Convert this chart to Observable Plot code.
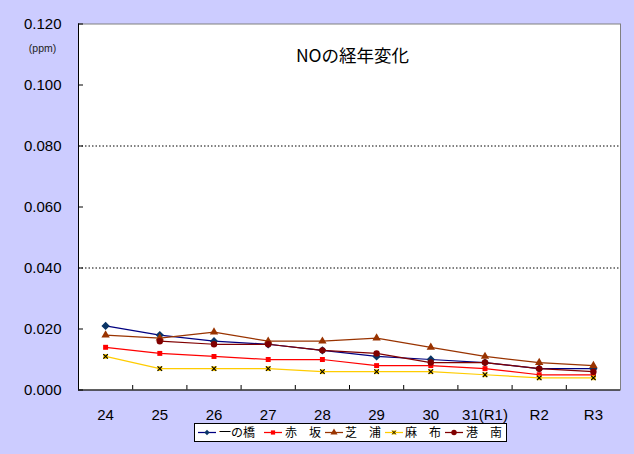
<!DOCTYPE html>
<html>
<head>
<meta charset="utf-8">
<script src="https://cdn.jsdelivr.net/npm/d3@7"></script>
<script src="https://cdn.jsdelivr.net/npm/@observablehq/plot@0.6"></script>
<style>
  html, body { margin: 0; padding: 0; background: #CCCCFF; width: 634px; height: 454px; overflow: hidden; }
  #wrap { position: relative; width: 634px; height: 454px; }
  #chart svg { display: block; }
  #legend { position: absolute; left: 194px; top: 423px; }
</style>
</head>
<body>
<div id="wrap">
  <div id="chart"></div>
  <div id="legend"></div>
</div>
<script>
// ---- data ----
const years = ["24", "25", "26", "27", "28", "29", "30", "31(R1)", "R2", "R3"];
const ichinohashi = [0.021, 0.018, 0.016, 0.015, 0.013, 0.011, 0.010, 0.009, 0.007, 0.007];
const akasaka     = [0.014, 0.012, 0.011, 0.010, 0.010, 0.008, 0.008, 0.007, 0.005, 0.005];
const shibaura    = [0.018, 0.017, 0.019, 0.016, 0.016, 0.017, 0.014, 0.011, 0.009, 0.008];
const azabu       = [0.011, 0.007, 0.007, 0.007, 0.006, 0.006, 0.006, 0.005, 0.004, 0.004];
const konan       = [null,  0.016, 0.015, 0.015, 0.013, 0.012, 0.009, 0.009, 0.007, 0.006];
const seriesNames = ["一の橋", "赤　坂", "芝　浦", "麻　布", "港　南"];
const yTicks = [0, 0.02, 0.04, 0.06, 0.08, 0.10, 0.12];
const gridTicks = [0.04, 0.08];
const title = "NOの経年変化";
const unit = "(ppm)";

const seriesValues = [ichinohashi, akasaka, shibaura, azabu, konan];
const colors = ["#000080", "#FF0000", "#993300", "#FFCC00", "#800000"];
const markerFill = ["#0a3566", "#FF0000", "#993300", "#FFCC00", "#800000"];
const symbols = ["diamond2", "square", "triangle", "square", "circle"];
const radii = [2.8, 2.8, 3.1, 2.7, 3.2];

const rows = seriesValues.map((vals, s) =>
  vals.map((v, i) => ({x: i, y: v, s})).filter(d => d.y != null));

const fmt = d3.format(".3f");
const jp = "'Noto Sans CJK JP', 'Noto Sans', sans-serif";

const marks = [
  Plot.frame({fill: "white", stroke: "#808080"}),
  Plot.ruleY(gridTicks, {x1: -0.5, x2: 9.5, stroke: "black", strokeDasharray: "1.5,2", strokeWidth: 1}),
  // inward y ticks
  Plot.ruleY(yTicks, {x1: -0.5, x2: -0.5 + 5 / 54.2, stroke: "black"}),
  // inward x ticks at category boundaries
  Plot.ruleX(years.slice(1).map((_, i) => i + 0.5), {y1: 0, y2: 4.5 / 3050, stroke: "black"}),
  Plot.ruleX([-0.5], {stroke: "black"}),
  Plot.ruleY([0], {stroke: "black"}),
  // y labels
  Plot.text(yTicks, {x: -0.5, y: d => d, text: d => fmt(d), textAnchor: "end", dx: -17, fontSize: 15, fill: "black", lineAnchor: "middle"}),
  // x labels
  Plot.text(years, {x: (d, i) => i, y: 0, text: d => d, dy: 25, fontSize: 15, fill: "black", lineAnchor: "middle"}),
  Plot.text([title], {text: d => d, frameAnchor: "top", dx: 3, dy: 32, fontSize: 17.5, fontFamily: jp, fill: "black", lineAnchor: "middle"}),
  Plot.text([unit], {text: d => d, frameAnchor: "top-left", dx: -36, dy: 25, fontSize: 10.5, fill: "#222", lineAnchor: "middle", textAnchor: "middle"})
];

rows.forEach((data, s) => {
  marks.push(Plot.line(data, {x: "x", y: "y", stroke: colors[s], strokeWidth: 1.25}));
  marks.push(Plot.dot(data, {x: "x", y: "y", symbol: symbols[s], r: radii[s], fill: markerFill[s], stroke: s === 0 ? markerFill[s] : "none"}));
  if (s === 3) {
    marks.push(Plot.dot(data, {x: "x", y: "y", symbol: "times", r: 2.2, stroke: "black", strokeWidth: 1.1}));
  }
});

const chart = Plot.plot({
  width: 634,
  height: 454,
  marginLeft: 78,
  marginRight: 14,
  marginTop: 23.5,
  marginBottom: 64.5,
  x: {type: "linear", domain: [-0.5, 9.5], axis: null},
  y: {domain: [0, 0.12], axis: null},
  style: {background: "#CCCCFF", fontFamily: "'Liberation Sans', Arial, sans-serif", color: "black"},
  marks
});
document.getElementById("chart").appendChild(chart);

// ---- legend ----
const lw = 313, lh = 19;
const lsvg = d3.select("#legend").append("svg").attr("width", lw).attr("height", lh)
  .style("display", "block");
lsvg.append("rect").attr("x", 0.5).attr("y", 0.5).attr("width", lw - 1).attr("height", lh - 1)
  .attr("fill", "white").attr("stroke", "black");
const lineStarts = [4, 70, 131, 191, 251];
const textStarts = [25, 91, 151, 211, 272];
const d3sym = {diamond2: d3.symbolDiamond2, square: d3.symbolSquare, triangle: d3.symbolTriangle, circle: d3.symbolCircle};
seriesNames.forEach((name, s) => {
  const x0 = lineStarts[s], cy = 9.5;
  lsvg.append("line").attr("x1", x0).attr("x2", x0 + 18).attr("y1", cy).attr("y2", cy)
    .attr("stroke", colors[s]).attr("stroke-width", 1.25);
  const r = radii[s] * 0.85;
  lsvg.append("path").attr("d", d3.symbol(d3sym[symbols[s]], Math.PI * r * r)())
    .attr("transform", `translate(${x0 + 9},${cy})`).attr("fill", markerFill[s]);
  if (s === 3) {
    lsvg.append("path").attr("d", d3.symbol(d3.symbolTimes, Math.PI * 1.8 * 1.8)())
      .attr("transform", `translate(${x0 + 9},${cy})`).attr("fill", "none").attr("stroke", "black").attr("stroke-width", 1);
  }
  lsvg.append("text").attr("x", textStarts[s]).attr("y", cy).attr("dy", "0.36em")
    .attr("font-family", jp).attr("font-size", 12).attr("fill", "black").text(name);
});
</script>
</body>
</html>
